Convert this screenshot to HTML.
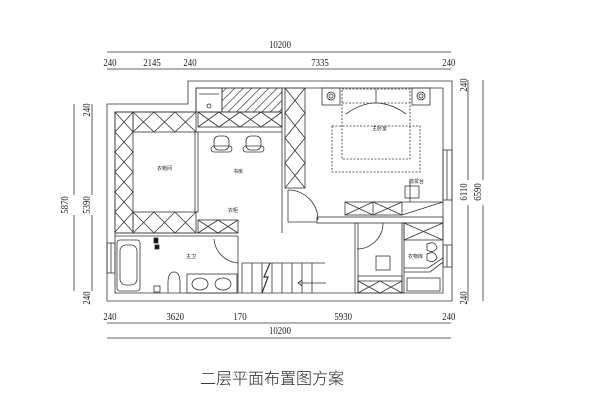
<!DOCTYPE html>
<html><head><meta charset="utf-8"><style>
html,body{margin:0;padding:0;background:#fff;width:600px;height:413px;overflow:hidden}
svg{display:block}
text{font-family:"Liberation Sans","Noto Sans CJK SC",sans-serif;fill:#222}
.d{font-family:"Liberation Serif",serif;font-size:11px}
</style></head><body>
<svg width="600" height="413" viewBox="0 0 600 413" xmlns="http://www.w3.org/2000/svg">
<defs>
<pattern id="h" width="6" height="6" patternUnits="userSpaceOnUse" patternTransform="rotate(45)">
<line x1="0" y1="0" x2="0" y2="6" stroke="#222" stroke-width="1.3"/></pattern>
</defs>
<g stroke="#333" stroke-width="0.8" fill="none">
<line x1="107" y1="52" x2="451" y2="52"/>
<line x1="107" y1="69" x2="451" y2="69"/>
<line x1="107" y1="323" x2="451" y2="323"/>
<line x1="107" y1="338" x2="451" y2="338"/>
<line x1="74" y1="104" x2="74" y2="195"/><line x1="74" y1="215" x2="74" y2="291"/>
<line x1="92" y1="104" x2="92" y2="195"/><line x1="92" y1="215" x2="92" y2="291"/>
<line x1="483" y1="80" x2="483" y2="180"/><line x1="483" y1="205" x2="483" y2="301"/>
<line x1="468" y1="80" x2="468" y2="180"/><line x1="468" y1="205" x2="468" y2="301"/>
<path d="M107 104 H188 V81 H452 V301 H107 Z"/>
<path d="M115 112 H196 V88 H443 V293 H115 Z"/>
<rect x="443" y="150" width="9" height="50"/><line x1="447" y1="150" x2="447" y2="200"/>
<rect x="443" y="245" width="9" height="22"/><line x1="447" y1="245" x2="447" y2="267"/>
<rect x="107" y="243" width="8" height="30"/><line x1="111" y1="243" x2="111" y2="273"/>
<rect x="115" y="112" width="18" height="121"/>
<path d="M115 112 L133 132 L115 152 L133 172 L115 192 L133 212 L115 232"/>
<path d="M133 112 L115 132 L133 152 L115 172 L133 192 L115 212 L133 232"/>
<rect x="133" y="112" width="63" height="20"/>
<path d="M133 112 L154 132 M154 112 L133 132 M154 112 L175 132 M175 112 L154 132 M175 112 L196 132 M196 112 L175 132"/>
<rect x="133" y="212" width="63" height="21"/>
<path d="M133 212 L154 233 M154 212 L133 233 M154 212 L175 233 M175 212 L154 233 M175 212 L196 233 M196 212 L175 233"/>
<rect x="195" y="132" width="3" height="80"/>
<line x1="196" y1="88" x2="196" y2="112"/>
<rect x="196" y="88" width="26" height="24"/>
<path d="M199 94 H219"/><circle cx="209" cy="106" r="2"/>
<rect x="222" y="88" width="60" height="24" fill="url(#h)"/>
<rect x="198" y="112" width="84" height="15"/>
<line x1="198" y1="132" x2="282" y2="132"/>
<path d="M198 112 L219 127 M219 112 L198 127 M219 112 L240 127 M240 112 L219 127 M240 112 L261 127 M261 112 L240 127 M261 112 L282 127 M282 112 L261 127"/>
<line x1="282" y1="88" x2="282" y2="233"/>
<rect x="214" y="136" width="15" height="14" rx="5"/><rect x="211" y="146" width="21" height="6" rx="3"/>
<rect x="246" y="136" width="15" height="14" rx="5"/><rect x="243" y="146" width="21" height="6" rx="3"/>
<rect x="285" y="88" width="20" height="100"/>
<path d="M285 88 L305 113 L285 138 L305 163 L285 188"/>
<path d="M305 88 L285 113 L305 138 L285 163 L305 188"/>
<rect x="198" y="220" width="40" height="13"/>
<path d="M198 220 L218 233 M218 220 L198 233 M218 220 L238 233 M238 220 L218 233"/>
<line x1="115" y1="233" x2="238" y2="233"/>
<line x1="115" y1="236" x2="238" y2="236"/>
<path d="M288 190 A30 30 0 0 1 318 220"/><line x1="288" y1="190" x2="288" y2="222"/>
<path d="M214 239 A26 26 0 0 0 238 263"/><line x1="238" y1="236" x2="238" y2="293"/>
<path d="M383 223 A26 26 0 0 1 357 249"/>
<rect x="317" y="217" width="126" height="6"/>
<line x1="288" y1="222" x2="317" y2="222"/>
<rect x="345" y="202" width="57" height="13"/>
<path d="M345 202 L373 215 M373 202 L345 215 M373 202 L402 215 M402 202 L373 215"/>
<line x1="373" y1="202" x2="373" y2="215"/>
<path d="M402 202 H443 M402 215 L443 202"/>
<rect x="405" y="186" width="14" height="12"/>
<line x1="410" y1="181" x2="410" y2="202"/>
<rect x="322" y="88" width="18" height="17"/><circle cx="331" cy="96" r="4"/><circle cx="331" cy="96" r="2"/>
<rect x="412" y="88" width="18" height="17"/><circle cx="421" cy="96" r="4"/><circle cx="421" cy="96" r="2"/>
<g stroke-dasharray="2,1.5">
<rect x="342" y="89" width="68" height="70"/>
<rect x="332" y="126" width="88" height="46"/>
<line x1="342" y1="103" x2="410" y2="103"/>
</g>
<line x1="376" y1="89" x2="376" y2="103"/>
<path d="M346 114 Q376 92 406 114"/>
<rect x="355" y="223" width="3" height="70"/>
<rect x="402" y="223" width="2" height="70"/>
<rect x="404" y="223" width="39" height="17"/>
<path d="M404 223 L443 240 M443 223 L404 240"/>
<rect x="376" y="256" width="14" height="14"/>
<rect x="358" y="276" width="44" height="17"/>
<path d="M358 281 L380 293 M380 281 L358 293 M380 281 L402 293 M402 281 L380 293"/>
<line x1="358" y1="281" x2="402" y2="281"/>
<path d="M427 244 q8 -4 10 4 q-4 6 -10 2 z M427 254 q8 -4 10 4 q-4 6 -10 2 z"/>
<path d="M404 268 H428 L443 258 M404 272 H430 L443 262"/>
<rect x="407" y="278" width="33" height="13"/>
<rect x="117" y="240" width="23" height="51" rx="3"/>
<rect x="120" y="245" width="17" height="40" rx="6"/>
<rect x="154" y="238" width="4" height="5" fill="#111"/>
<rect x="155" y="245" width="4" height="4" fill="#111"/>
<rect x="154" y="286" width="6" height="6"/>
<path d="M168 293 V283 Q168 272 174 272 Q180 272 180 283 V293"/>
<rect x="187" y="274" width="50" height="19"/>
<ellipse cx="200" cy="284" rx="8" ry="6"/><ellipse cx="223" cy="284" rx="8" ry="6"/>
<line x1="242" y1="263" x2="325" y2="263"/>
<line x1="242" y1="263" x2="242" y2="293"/>
<path d="M252 263 V293 M262 263 V293 M272 263 V293 M282 263 V293 M292 263 V293 M302 263 V293 M312 263 V293"/>
<path d="M262 293 L268 277 L264 277 L270 263" stroke-width="1.2"/>
<path d="M300 283 H326 M302 280 L298 283 L302 286"/>
</g>
<g transform="scale(0.8,1)">
<text class="d" x="350" y="48" text-anchor="middle">10200</text>
<text class="d" x="137.5" y="66" text-anchor="middle">240</text>
<text class="d" x="190" y="66" text-anchor="middle">2145</text>
<text class="d" x="237.5" y="66" text-anchor="middle">240</text>
<text class="d" x="400" y="66" text-anchor="middle">7335</text>
<text class="d" x="561" y="66" text-anchor="middle">240</text>
<text class="d" x="137.5" y="320" text-anchor="middle">240</text>
<text class="d" x="219" y="320" text-anchor="middle">3620</text>
<text class="d" x="300" y="320" text-anchor="middle">170</text>
<text class="d" x="429" y="320" text-anchor="middle">5930</text>
<text class="d" x="561" y="320" text-anchor="middle">240</text>
<text class="d" x="350" y="334" text-anchor="middle">10200</text>
</g>
<text transform="translate(68,205) rotate(-90) scale(0.8,1)" text-anchor="middle" class="d">5870</text>
<text transform="translate(90,205) rotate(-90) scale(0.8,1)" text-anchor="middle" class="d">5390</text>
<text transform="translate(90,110) rotate(-90) scale(0.8,1)" text-anchor="middle" class="d">240</text>
<text transform="translate(90,298) rotate(-90) scale(0.8,1)" text-anchor="middle" class="d">240</text>
<text transform="translate(467,192) rotate(-90) scale(0.8,1)" text-anchor="middle" class="d">6110</text>
<text transform="translate(481,192) rotate(-90) scale(0.8,1)" text-anchor="middle" class="d">6590</text>
<text transform="translate(467,85) rotate(-90) scale(0.8,1)" text-anchor="middle" class="d">240</text>
<text transform="translate(467,298) rotate(-90) scale(0.8,1)" text-anchor="middle" class="d">240</text>
<text x="157" y="170" font-size="5">衣帽间</text>
<text x="233" y="173" font-size="5">书房</text>
<text x="372" y="130" font-size="5">主卧室</text>
<text x="409" y="183" font-size="5">梳妆台</text>
<text x="408" y="258" font-size="5">衣物库</text>
<text x="186" y="258" font-size="5">主卫</text>
<text x="228" y="212" font-size="5">衣柜</text>
<text x="200" y="384" font-size="16" font-weight="300" style="font-family:'Noto Sans CJK SC',sans-serif">二层平面布置图方案</text>
</svg>
</body></html>
